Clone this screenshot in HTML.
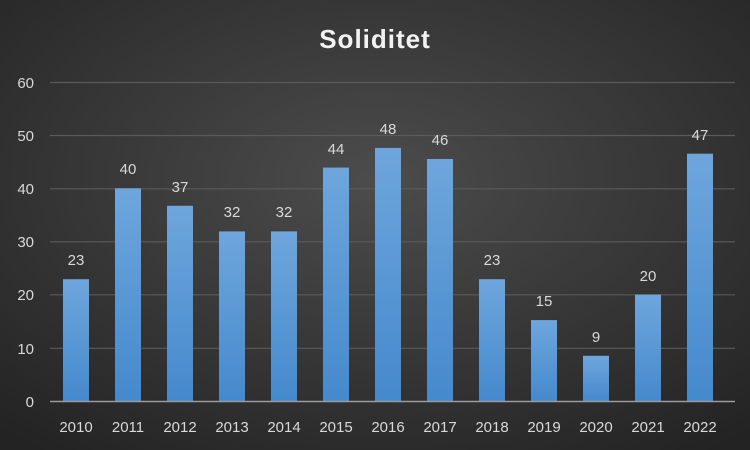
<!DOCTYPE html>
<html><head><meta charset="utf-8"><style>
html,body{margin:0;padding:0;width:750px;height:450px;overflow:hidden;background:#333}
</style></head><body>
<svg width="750" height="450" xmlns="http://www.w3.org/2000/svg" font-family="Liberation Sans, sans-serif">
<defs>
<radialGradient id="bg" cx="50%" cy="40%" r="75%">
<stop offset="0" stop-color="#4c4c4c"/><stop offset="1" stop-color="#232323"/>
</radialGradient>
<linearGradient id="bar" x1="0" y1="0" x2="0" y2="1">
<stop offset="0" stop-color="#6ea6dc"/><stop offset="1" stop-color="#4589cd"/>
</linearGradient>
</defs>
<rect width="750" height="450" fill="url(#bg)"/>
<text x="375" y="48" text-anchor="middle" font-size="26" font-weight="bold" fill="#f2f2f2" letter-spacing="1">Soliditet</text>
<g stroke="#5a5a5a" stroke-width="1.2">
<line x1="50" x2="735" y1="82.5" y2="82.5"/>
<line x1="50" x2="735" y1="135.5" y2="135.5"/>
<line x1="50" x2="735" y1="188.8" y2="188.8"/>
<line x1="50" x2="735" y1="241.8" y2="241.8"/>
<line x1="50" x2="735" y1="294.8" y2="294.8"/>
<line x1="50" x2="735" y1="348.3" y2="348.3"/>
</g>
<g fill="#d9d9d9" font-size="15" text-anchor="end">
<text x="34" y="88">60</text><text x="34" y="141">50</text><text x="34" y="194">40</text>
<text x="34" y="247">30</text><text x="34" y="300">20</text><text x="34" y="354">10</text><text x="34" y="407">0</text>
</g>
<g fill="url(#bar)">
<rect x="63" y="279.2" width="26" height="122.3"/>
<rect x="115" y="188.3" width="26" height="213.2"/>
<rect x="167" y="205.8" width="26" height="195.7"/>
<rect x="219" y="231.4" width="26" height="170.1"/>
<rect x="271" y="231.4" width="26" height="170.1"/>
<rect x="323" y="167.6" width="26" height="233.9"/>
<rect x="375" y="147.9" width="26" height="253.6"/>
<rect x="427" y="159.0" width="26" height="242.5"/>
<rect x="479" y="279.2" width="26" height="122.3"/>
<rect x="531" y="320.1" width="26" height="81.4"/>
<rect x="583" y="355.8" width="26" height="45.7"/>
<rect x="635" y="294.6" width="26" height="106.9"/>
<rect x="687" y="153.7" width="26" height="247.8"/>
</g>
<g fill="#d9d9d9" font-size="15" text-anchor="middle">
<text x="76" y="265">23</text>
<text x="128" y="174">40</text>
<text x="180" y="192">37</text>
<text x="232" y="217">32</text>
<text x="284" y="217">32</text>
<text x="336" y="154">44</text>
<text x="388" y="134">48</text>
<text x="440" y="145">46</text>
<text x="492" y="265">23</text>
<text x="544" y="306">15</text>
<text x="596" y="342">9</text>
<text x="648" y="281">20</text>
<text x="700" y="140">47</text>
</g>
<g fill="#d9d9d9" font-size="15" text-anchor="middle">
<text x="76" y="432">2010</text><text x="128" y="432">2011</text><text x="180" y="432">2012</text>
<text x="232" y="432">2013</text><text x="284" y="432">2014</text><text x="336" y="432">2015</text>
<text x="388" y="432">2016</text><text x="440" y="432">2017</text><text x="492" y="432">2018</text>
<text x="544" y="432">2019</text><text x="596" y="432">2020</text><text x="648" y="432">2021</text>
<text x="700" y="432">2022</text>
</g>
<line x1="50" x2="735" y1="401.5" y2="401.5" stroke="#9a9a9a" stroke-width="1.5"/>
</svg>
</body></html>
